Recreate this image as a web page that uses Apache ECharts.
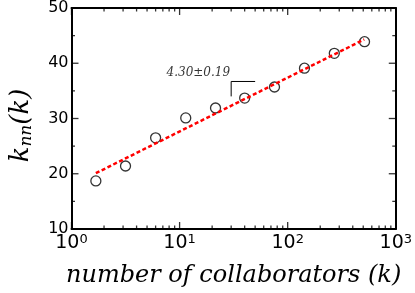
<!DOCTYPE html>
<html><head><meta charset="utf-8">
<script src="https://cdn.jsdelivr.net/npm/echarts@6/dist/echarts.min.js"></script>
<style>html,body{margin:0;padding:0;background:#fff}#c{width:415px;height:293px}</style>
</head><body><div id="c"></div>
<script>
// data
var collaborators = [1.68, 3.16, 6.0, 11.4, 21.5, 40, 75.5, 143, 270, 514];
var knn = [18.7, 21.4, 26.5, 30.1, 31.9, 33.7, 35.7, 39.1, 41.8, 43.9];
var fitK = [1.68, 510];
var fitY = [20.1, 44.3];
var slopeK = [30, 30, 50];
var slopeY = [34.0, 36.7, 36.7];
var slopeText = '4.30\u00b10.19';
var slopeTextAt = [14.9, 38.3];
// tick values
var xMajor = [1, 10, 100, 1000];
var xMinor = [2, 3, 4, 5, 6, 7, 8, 9, 20, 30, 40, 50, 60, 70, 80, 90, 200, 300, 400, 500, 600, 700, 800, 900];
var yMajor = [10, 20, 30, 40, 50];
var yMinor = [15, 25, 35, 45];

var X0 = xMajor[0], X1 = xMajor[xMajor.length - 1], Y0 = yMajor[0], Y1 = yMajor[yMajor.length - 1];
var zip = function (a, b) { return a.map(function (v, i) { return [v, b[i]]; }); };

var chart = echarts.init(document.getElementById('c'));
var line2 = { show: true, onZero: false, lineStyle: { color: '#000', width: 2 } };
var xAx = function (pos, labelOn) {
  return {
    type: 'log', logBase: 10, min: X0, max: X1, position: pos,
    axisLine: line2, axisTick: { show: false }, minorTick: { show: false },
    splitLine: { show: false }, minorSplitLine: { show: false },
    axisLabel: {
      show: labelOn, margin: 4, color: '#000',
      formatter: function (v) { return '{b|10}{s|' + Math.round(Math.log10(v)) + '}'; },
      rich: {
        b: { fontFamily: 'DejaVu Sans', fontSize: 19, color: '#000' },
        s: { fontFamily: 'DejaVu Sans', fontSize: 13, color: '#000', verticalAlign: 'top', padding: [0, 0, 8, 0] }
      }
    }
  };
};
var yAx = function (pos, labelOn) {
  return {
    type: 'value', min: Y0, max: Y1, interval: 10, position: pos,
    axisLine: line2, axisTick: { show: false }, minorTick: { show: false },
    splitLine: { show: false }, minorSplitLine: { show: false },
    axisLabel: { show: labelOn, margin: 3, color: '#000', fontFamily: 'DejaVu Sans', fontSize: 16 }
  };
};
var xBottom = xAx('bottom', true);
xBottom.name = 'number of collaborators (k)';
xBottom.nameLocation = 'middle';
xBottom.nameGap = 35;
xBottom.nameTextStyle = { fontFamily: 'DejaVu Serif', fontStyle: 'italic', fontSize: 24, color: '#000' };
var yLeft = yAx('left', true);
yLeft.name = '{k|k}{s|nn}{k|(k)}';
yLeft.nameLocation = 'middle';
yLeft.nameRotate = 90;
yLeft.nameGap = 36;
yLeft.nameTextStyle = {
  padding: [0, 14, 0, 0],
  rich: {
    k: { fontFamily: 'DejaVu Serif', fontStyle: 'italic', fontSize: 26, color: '#000' },
    s: { fontFamily: 'DejaVu Serif', fontStyle: 'italic', fontSize: 17, color: '#000', verticalAlign: 'bottom', padding: [12, 0, 0, 0] }
  }
};

// inward ticks drawn as thin rect symbols sitting on the frame edges (positions from the axes' scales)
function tickSeries(points, size, offset) {
  return {
    type: 'scatter', data: points, symbol: 'rect', symbolSize: size, symbolOffset: offset,
    itemStyle: { color: '#000' }, silent: true, clip: false, z: 5
  };
}
var MAJ = 7, MIN = 3.5, TW = 1.3;
var tickSeriesList = [
  tickSeries(xMajor.map(function (v) { return [v, Y0]; }), [TW, MAJ], [0, -MAJ / 2]),
  tickSeries(xMajor.map(function (v) { return [v, Y1]; }), [TW, MAJ], [0, MAJ / 2]),
  tickSeries(xMinor.map(function (v) { return [v, Y0]; }), [TW, MIN], [0, -MIN / 2]),
  tickSeries(xMinor.map(function (v) { return [v, Y1]; }), [TW, MIN], [0, MIN / 2]),
  tickSeries(yMajor.map(function (v) { return [X0, v]; }), [MAJ, TW], [MAJ / 2, 0]),
  tickSeries(yMajor.map(function (v) { return [X1, v]; }), [MAJ, TW], [-MAJ / 2, 0]),
  tickSeries(yMinor.map(function (v) { return [X0, v]; }), [MIN, TW], [MIN / 2, 0]),
  tickSeries(yMinor.map(function (v) { return [X1, v]; }), [MIN, TW], [-MIN / 2, 0])
];

chart.setOption({
  animation: false,
  backgroundColor: '#fff',
  grid: { left: 65, right: 16, top: 8, bottom: 63, containLabel: false },
  xAxis: [xBottom, xAx('top', false)],
  yAxis: [yLeft, yAx('right', false)],
  series: tickSeriesList.concat([
    {
      type: 'scatter', data: zip(collaborators, knn), symbol: 'circle', symbolSize: 10,
      itemStyle: { color: 'rgba(0,0,0,0)', borderColor: '#000', borderWidth: 1.3 }, z: 2
    },
    {
      type: 'line', data: zip(fitK, fitY), showSymbol: false, symbol: 'none',
      lineStyle: { color: '#ff0000', width: 2.5, type: [4, 2.5] }, z: 3
    },
    {
      type: 'line', data: zip(slopeK, slopeY), showSymbol: false, symbol: 'none',
      lineStyle: { color: '#000', width: 1 }, z: 3
    },
    {
      type: 'scatter', data: [slopeTextAt], symbolSize: 1, itemStyle: { color: 'rgba(0,0,0,0)' },
      label: { show: true, position: 'inside', formatter: slopeText, color: '#000',
        fontFamily: 'DejaVu Serif', fontStyle: 'italic', fontSize: 12 }, z: 3
    }
  ])
});
</script></body></html>
